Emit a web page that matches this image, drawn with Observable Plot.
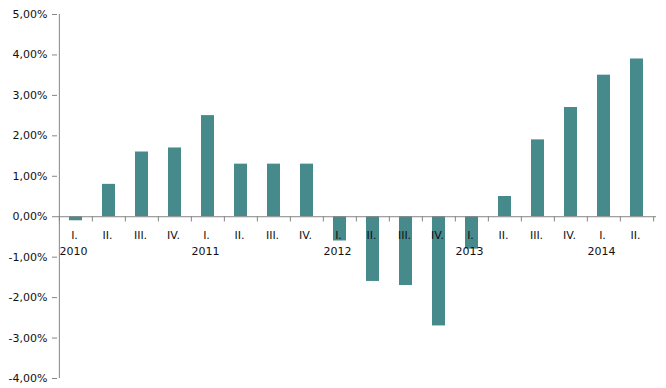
<!DOCTYPE html>
<html>
<head>
<meta charset="utf-8">
<script src="https://cdn.jsdelivr.net/npm/d3@7"></script>
<script src="https://cdn.jsdelivr.net/npm/@observablehq/plot@0.6"></script>
<style>
  html, body { margin: 0; padding: 0; background: #fff; }
  #chart svg { display: block; }
</style>
</head>
<body>
<div id="chart"></div>
<script>
const quarters = ["I.", "II.", "III.", "IV.", "I.", "II.", "III.", "IV.", "I.", "II.", "III.", "IV.", "I.", "II.", "III.", "IV.", "I.", "II."];
const years = ["2010", "", "", "", "2011", "", "", "", "2012", "", "", "", "2013", "", "", "", "2014", ""];
const values = [-0.1, 0.8, 1.6, 1.7, 2.5, 1.3, 1.3, 1.3, -0.6, -1.6, -1.7, -2.7, -0.8, 0.5, 1.9, 2.7, 3.5, 3.9];
const yTicks = [-4, -3, -2, -1, 0, 1, 2, 3, 4, 5];

const data = values.map((v, i) => ({ key: i, q: quarters[i], year: years[i], v }));
const keys = data.map(d => d.key);

const W = 666, H = 388, mL = 57, mR = 10, mT = 14, mB = 10;
const step = (W - mL - mR) / keys.length;
const fmt = v => (v < 0 ? "-" : "") + d3.format(".2f")(Math.abs(v)).replace(".", ",") + "%";
const font = "DejaVu Sans, Verdana, sans-serif";
const ink = "#111";

const chart = Plot.plot({
  width: W,
  height: H,
  marginLeft: mL,
  marginRight: mR,
  marginTop: mT,
  marginBottom: mB,
  style: { fontFamily: font, fontSize: "11px", color: ink, background: "#fff" },
  x: { domain: keys, paddingInner: 0.6, paddingOuter: 0.3, axis: null },
  y: { domain: [-4, 5], axis: null },
  marks: [
    Plot.barY(data, { x: "key", y: "v", fill: "#468A8C" }),
    // y axis line
    Plot.ruleX([data[0]], { x: "key", y1: -4, y2: 5, dx: -step / 2, stroke: "#868686" }),
    Plot.axisY({ ticks: yTicks, tickFormat: fmt, tickSize: 5, tickPadding: 5, stroke: "#868686", fill: ink, fontSize: 11, fontFamily: font, label: null }),
    // x axis at zero
    Plot.ruleY([0], { stroke: "#868686" }),
    Plot.ruleX(data, { x: "key", y1: 0, y2: -0.13, dx: -step / 2, stroke: "#868686" }),
    Plot.ruleX([data[data.length - 1]], { x: "key", y1: 0, y2: -0.13, dx: step / 2, stroke: "#868686" }),
    Plot.text(data, { x: "key", y: 0, text: "q", dy: 19, dx: -1.5, fill: ink, fontSize: 11, fontFamily: font }),
    Plot.text(data.filter(d => d.year), { x: "key", y: 0, text: "year", dy: 35, dx: -2.5, fill: ink, fontSize: 11, fontFamily: font })
  ]
});
document.getElementById("chart").appendChild(chart);
</script>
</body>
</html>
